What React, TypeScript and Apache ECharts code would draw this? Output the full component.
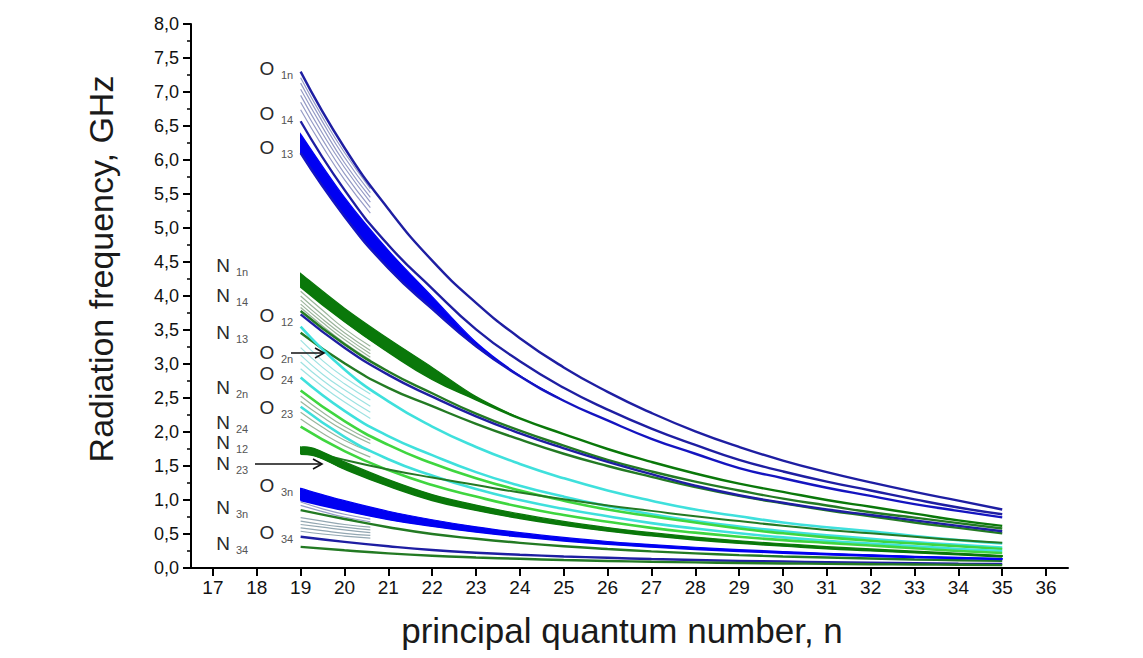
import React, { useEffect, useRef } from "react";
import * as echarts from "echarts";

// ---------- data ----------
const N_FULL = [19, 20, 21, 22, 23, 24, 25, 26, 27, 28, 29, 30, 31, 32, 33, 34, 35];
const N_SHORT = [19, 19.5, 20, 20.59];
const N_HOOK = [19, 19.3, 20, 21, 22, 23, 24, 25, 26, 27, 28, 29, 30, 31, 32, 33, 34, 35];
const X_TICKS = [17, 18, 19, 20, 21, 22, 23, 24, 25, 26, 27, 28, 29, 30, 31, 32, 33, 34, 35, 36];

// O series (navy / blue)
const O1n = [7.3, 6.18, 5.28, 4.52, 3.9, 3.38, 2.95, 2.59, 2.28, 2.01, 1.78, 1.58, 1.41, 1.26, 1.12, 0.99, 0.86];
const O14 = [6.57, 5.56, 4.75, 4.11, 3.51, 3.04, 2.65, 2.33, 2.05, 1.81, 1.59, 1.42, 1.27, 1.14, 1.01, 0.89, 0.79];
const O13_low = [6.1, 5.17, 4.41, 3.81, 3.26, 2.82, 2.46, 2.17, 1.9, 1.68, 1.47, 1.32, 1.18, 1.06, 0.94, 0.84, 0.745];
const O13_width = [0.28, 0.28, 0.26, 0.18, 0.06, 0.01, 0, 0, 0, 0, 0, 0, 0, 0, 0, 0, 0];
const O1x_short = [
  [7.21, 6.63, 6.11, 5.58],
  [7.13, 6.56, 6.04, 5.52],
  [7.04, 6.48, 5.96, 5.45],
  [6.95, 6.39, 5.89, 5.38],
  [6.85, 6.3, 5.8, 5.3],
  [6.74, 6.2, 5.71, 5.22],
];
const O12 = [3.73, 3.24, 2.84, 2.52, 2.23, 1.98, 1.76, 1.56, 1.38, 1.21, 1.07, 0.96, 0.86, 0.78, 0.7, 0.62, 0.54];
const O3n_low = [1.0, 0.85, 0.72, 0.62, 0.535, 0.465, 0.405, 0.355, 0.315, 0.28, 0.25, 0.225, 0.2, 0.18, 0.16, 0.145, 0.13];
const O3n_width = [0.17, 0.14, 0.115, 0.09, 0.07, 0.055, 0.045, 0.035, 0.03, 0.025, 0.02, 0.018, 0.016, 0.014, 0.012, 0.011, 0.01];
const O3x_short = [
  [0.97, 0.87, 0.79, 0.72],
  [0.92, 0.83, 0.75, 0.68],
];
const O34 = [0.46, 0.385, 0.32, 0.265, 0.225, 0.195, 0.17, 0.15, 0.132, 0.118, 0.105, 0.095, 0.086, 0.078, 0.071, 0.065, 0.06];

// O2n series (cyan)
const O2n = [3.55, 2.92, 2.45, 2.08, 1.78, 1.53, 1.32, 1.14, 0.99, 0.86, 0.76, 0.67, 0.6, 0.54, 0.47, 0.41, 0.36];
const O24 = [2.8, 2.31, 1.94, 1.66, 1.41, 1.21, 1.05, 0.91, 0.79, 0.69, 0.61, 0.54, 0.48, 0.43, 0.38, 0.34, 0.3];
const O23 = [2.37, 1.93, 1.6, 1.36, 1.16, 1.0, 0.87, 0.76, 0.66, 0.58, 0.51, 0.45, 0.4, 0.36, 0.32, 0.28, 0.25];
const O2x_short = [
  [3.35, 3.05, 2.8, 2.56],
  [3.24, 2.95, 2.71, 2.47],
  [3.13, 2.85, 2.62, 2.38],
  [3.03, 2.76, 2.53, 2.29],
  [2.93, 2.67, 2.44, 2.2],
];

// N series (green)
const N1n_low = [4.14, 3.63, 3.18, 2.78, 2.48, 2.2, 1.97, 1.75, 1.56, 1.39, 1.24, 1.12, 1.0, 0.9, 0.8, 0.7, 0.62];
const N1n_width = [0.19, 0.19, 0.19, 0.17, 0.04, 0, 0, 0, 0, 0, 0, 0, 0, 0, 0, 0, 0];
const N1x_short = [
  [4.07, 3.79, 3.52, 3.26],
  [4.0, 3.72, 3.46, 3.2],
  [3.94, 3.66, 3.41, 3.15],
  [3.88, 3.61, 3.36, 3.1],
  [3.83, 3.56, 3.31, 3.06],
];
const N14 = [3.78, 3.29, 2.89, 2.57, 2.27, 2.02, 1.8, 1.59, 1.42, 1.27, 1.14, 1.02, 0.92, 0.82, 0.74, 0.66, 0.58];
const N13 = [3.46, 3.01, 2.65, 2.38, 2.12, 1.89, 1.68, 1.5, 1.34, 1.19, 1.06, 0.95, 0.85, 0.76, 0.67, 0.59, 0.51];
const N2n = [2.61, 2.16, 1.81, 1.54, 1.32, 1.14, 0.99, 0.86, 0.76, 0.67, 0.58, 0.51, 0.45, 0.4, 0.36, 0.32, 0.28];
const N24 = [2.08, 1.72, 1.44, 1.22, 1.05, 0.9, 0.78, 0.68, 0.59, 0.52, 0.46, 0.41, 0.37, 0.33, 0.29, 0.25, 0.22];
const N2x_short = [
  [2.53, 2.29, 2.08, 1.88],
  [2.45, 2.22, 2.02, 1.83],
  [2.29, 2.07, 1.88, 1.71],
  [2.19, 1.98, 1.8, 1.63],
];
const N12_low = [1.68, 1.66, 1.46, 1.21, 1.0, 0.855, 0.735, 0.635, 0.55, 0.48, 0.42, 0.37, 0.33, 0.29, 0.26, 0.23, 0.2, 0.17];
const N12_width = [0.1, 0.1, 0.1, 0.09, 0.08, 0.07, 0.06, 0.05, 0.045, 0.04, 0.035, 0.03, 0.027, 0.024, 0.021, 0.018, 0.016, 0.014];
const N23 = [1.75, 1.59, 1.45, 1.33, 1.22, 1.11, 1.01, 0.92, 0.84, 0.76, 0.69, 0.62, 0.56, 0.51, 0.46, 0.41, 0.37];
const N3n = [0.85, 0.72, 0.6, 0.5, 0.43, 0.37, 0.32, 0.28, 0.245, 0.215, 0.19, 0.17, 0.155, 0.14, 0.125, 0.115, 0.105];
const N3x_short = [
  [0.74, 0.69, 0.64, 0.6],
  [0.69, 0.64, 0.6, 0.56],
  [0.64, 0.6, 0.56, 0.52],
  [0.59, 0.55, 0.51, 0.48],
  [0.54, 0.5, 0.47, 0.44],
];
const N34 = [0.31, 0.26, 0.215, 0.18, 0.155, 0.135, 0.118, 0.104, 0.092, 0.082, 0.074, 0.067, 0.061, 0.056, 0.051, 0.047, 0.043];

// annotation labels: letter, subscript, position (px)
const LABELS: [string, string, number, number][] = [
  ["O", "1n", 267, 68],
  ["O", "14", 267, 113],
  ["O", "13", 267, 147],
  ["N", "1n", 223, 265],
  ["N", "14", 223, 295],
  ["O", "12", 267, 315],
  ["N", "13", 223, 332],
  ["O", "2n", 267, 352],
  ["O", "24", 267, 373],
  ["N", "2n", 223, 387],
  ["O", "23", 267, 407],
  ["N", "24", 223, 422],
  ["N", "12", 223, 442],
  ["N", "23", 223, 463],
  ["O", "3n", 267, 485],
  ["N", "3n", 223, 507],
  ["O", "34", 267, 532],
  ["N", "34", 223, 543],
];

// ---------- styles ----------
const FONT = "'Liberation Sans', Arial, Helvetica, sans-serif";
const NAVY = "#1e1ea2";
const BLUE = "#0000f2";
const DKGREEN = "#0a780a";
const GREEN = "#237a23";
const CYAN = "#3fe0dc";
const LIME = "#3fd63f";
const GREY_O = "#959bc6";
const GREY_N = "#9cb59c";
const GREY_C = "#9de2e2";
const GREY_L = "#93a7b2";

function pts(xs: number[], ys: number[]) {
  return xs.map((x, i) => [x, ys[i]]);
}

function curve(xs: number[], ys: number[], color: string, width: number, z = 3) {
  return {
    type: "line",
    data: pts(xs, ys),
    smooth: 0.5,
    symbol: "none",
    silent: true,
    z,
    lineStyle: { color, width },
  };
}

// Catmull-Rom -> cubic bezier segments through pixel points (rendering only)
function smoothSegs(p: number[][]): string {
  let d = "";
  for (let i = 0; i < p.length - 1; i++) {
    const p0 = p[i - 1] || p[i];
    const p1 = p[i];
    const p2 = p[i + 1];
    const p3 = p[i + 2] || p2;
    const c1x = p1[0] + (p2[0] - p0[0]) / 6;
    const c1y = p1[1] + (p2[1] - p0[1]) / 6;
    const c2x = p2[0] - (p3[0] - p1[0]) / 6;
    const c2y = p2[1] - (p3[1] - p1[1]) / 6;
    d += ` C ${c1x} ${c1y} ${c2x} ${c2y} ${p2[0]} ${p2[1]}`;
  }
  return d;
}

// band: filled region between low and low+width, positioned through the axes (api.coord)
function band(xs: number[], low: number[], w: number[], lineColor: string, fill: string, lineWidth = 2.4) {
  const poly = {
    type: "custom",
    silent: true,
    z: 4,
    data: [[xs[0], low[0]]],
    renderItem: (_p: any, api: any) => {
      const lower: number[][] = [];
      const upper: number[][] = [];
      for (let i = 0; i < xs.length; i++) {
        if (i > 0 && w[i - 1] === 0) break;
        lower.push(api.coord([xs[i], low[i]]));
        upper.push(api.coord([xs[i], low[i] + w[i]]));
      }
      const up = upper.slice().reverse();
      const d =
        `M ${lower[0][0]} ${lower[0][1]}` +
        smoothSegs(lower) +
        ` L ${up[0][0]} ${up[0][1]}` +
        smoothSegs(up) +
        " Z";
      return {
        type: "path",
        shape: { pathData: d },
        style: { fill, stroke: fill, lineWidth: 1.2 },
      };
    },
  };
  return [poly, curve(xs, low, lineColor, lineWidth, 5)];
}

function buildSeries() {
  const s: any[] = [];
  O1x_short.forEach((v) => s.push(curve(N_SHORT, v, GREY_O, 1.2, 2)));
  N1x_short.forEach((v) => s.push(curve(N_SHORT, v, GREY_N, 1.2, 2)));
  O2x_short.forEach((v) => s.push(curve(N_SHORT, v, GREY_C, 1.2, 2)));
  N2x_short.forEach((v) => s.push(curve(N_SHORT, v, GREY_N, 1.2, 2)));
  O3x_short.forEach((v) => s.push(curve(N_SHORT, v, GREY_O, 1.2, 2)));
  N3x_short.forEach((v) => s.push(curve(N_SHORT, v, GREY_L, 1.2, 2)));

  s.push(curve(N_FULL, O1n, NAVY, 2.4));
  s.push(curve(N_FULL, O14, NAVY, 2.4));
  s.push(...band(N_FULL, O13_low, O13_width, "#1414c0", BLUE));

  s.push(...band(N_FULL, N1n_low, N1n_width, DKGREEN, DKGREEN));
  s.push(curve(N_FULL, N14, GREEN, 2.4));
  s.push(curve(N_FULL, N13, GREEN, 2.4));
  s.push(curve(N_FULL, O12, NAVY, 2.4));

  s.push(curve(N_FULL, O2n, CYAN, 2.6));
  s.push(curve(N_FULL, O24, CYAN, 2.6));
  s.push(curve(N_FULL, N2n, LIME, 2.6));
  s.push(curve(N_FULL, O23, CYAN, 2.6));
  s.push(curve(N_FULL, N24, LIME, 2.6));

  s.push(...band(N_HOOK, N12_low, N12_width, DKGREEN, DKGREEN));
  s.push(curve(N_FULL, N23, GREEN, 2));

  s.push(...band(N_FULL, O3n_low, O3n_width, BLUE, BLUE));
  s.push(curve(N_FULL, N3n, GREEN, 2.4));
  s.push(curve(N_FULL, O34, NAVY, 2.4));
  s.push(curve(N_FULL, N34, GREEN, 2.4));
  return s;
}

function arrow(x1: number, x2: number, y: number) {
  return [
    { type: "line", shape: { x1, y1: y, x2, y2: y }, style: { stroke: "#111", lineWidth: 1.6 }, z: 20 },
    {
      type: "polyline",
      shape: { points: [[x2 - 9, y - 5], [x2, y], [x2 - 9, y + 5]] },
      style: { stroke: "#111", lineWidth: 1.6, fill: "none" },
      z: 20,
    },
  ];
}

function buildGraphics() {
  const g: any[] = [];
  LABELS.forEach(([t, sub, x, y]) => {
    g.push({
      type: "text",
      x,
      y,
      z: 20,
      style: {
        text: t,
        font: `19px ${FONT}`,
        fill: "#2a2a2a",
        textAlign: "center",
        textVerticalAlign: "middle",
        align: "center",
        verticalAlign: "middle",
      },
    });
    g.push({
      type: "text",
      x: x + (t === "O" ? 14 : 13),
      y: y + 7,
      z: 20,
      style: {
        text: sub,
        font: `11px ${FONT}`,
        fill: "#555",
        textAlign: "left",
        textVerticalAlign: "middle",
        align: "left",
        verticalAlign: "middle",
      },
    });
  });
  g.push(...arrow(291, 324, 353));
  g.push(...arrow(255, 322, 464));
  g.push({
    type: "text",
    x: 101,
    y: 269,
    rotation: Math.PI / 2,
    z: 20,
    style: {
      text: "Radiation frequency, GHz",
      font: `34px ${FONT}`,
      fill: "#1a1a1a",
      textAlign: "center",
      textVerticalAlign: "middle",
      align: "center",
      verticalAlign: "middle",
    },
  });
  g.push({
    type: "text",
    x: 622,
    y: 630,
    z: 20,
    style: {
      text: "principal quantum number, n",
      font: `35px ${FONT}`,
      fill: "#1a1a1a",
      textAlign: "center",
      textVerticalAlign: "middle",
      align: "center",
      verticalAlign: "middle",
    },
  });
  return g;
}

export default function App() {
  const ref = useRef<HTMLDivElement>(null);
  useEffect(() => {
    if (!ref.current) return;
    const chart = echarts.init(ref.current, undefined, { renderer: "svg" });
    chart.setOption({
      animation: false,
      backgroundColor: "#ffffff",
      grid: { left: 191, right: 75, top: 24, bottom: 90, containLabel: false },
      xAxis: {
        type: "value",
        min: 16.5,
        max: 36.5,
        axisLine: { show: true, onZero: false, lineStyle: { color: "#000", width: 2 } },
        axisTick: { show: true, length: 8, customValues: X_TICKS, lineStyle: { color: "#000", width: 2 } },
        axisLabel: { customValues: X_TICKS, fontSize: 19, color: "#111", fontFamily: FONT, margin: 10 },
        splitLine: { show: false },
      },
      yAxis: {
        type: "value",
        min: 0,
        max: 8,
        interval: 0.5,
        axisLine: { show: true, onZero: false, lineStyle: { color: "#000", width: 2 } },
        axisTick: { show: true, length: 8, lineStyle: { color: "#000", width: 2 } },
        minorTick: { show: true, splitNumber: 2, length: 4, lineStyle: { color: "#000", width: 1.5 } },
        axisLabel: {
          fontSize: 18,
          color: "#111",
          fontFamily: FONT,
          margin: 12,
          formatter: (v: number) => v.toFixed(1).replace(".", ","),
        },
        splitLine: { show: false },
      },
      series: buildSeries(),
      graphic: buildGraphics(),
    });
    return () => chart.dispose();
  }, []);
  return (
    <div
      ref={ref}
      style={{ position: "absolute", left: 0, top: 0, width: 1143, height: 658, background: "#fff" }}
    />
  );
}
